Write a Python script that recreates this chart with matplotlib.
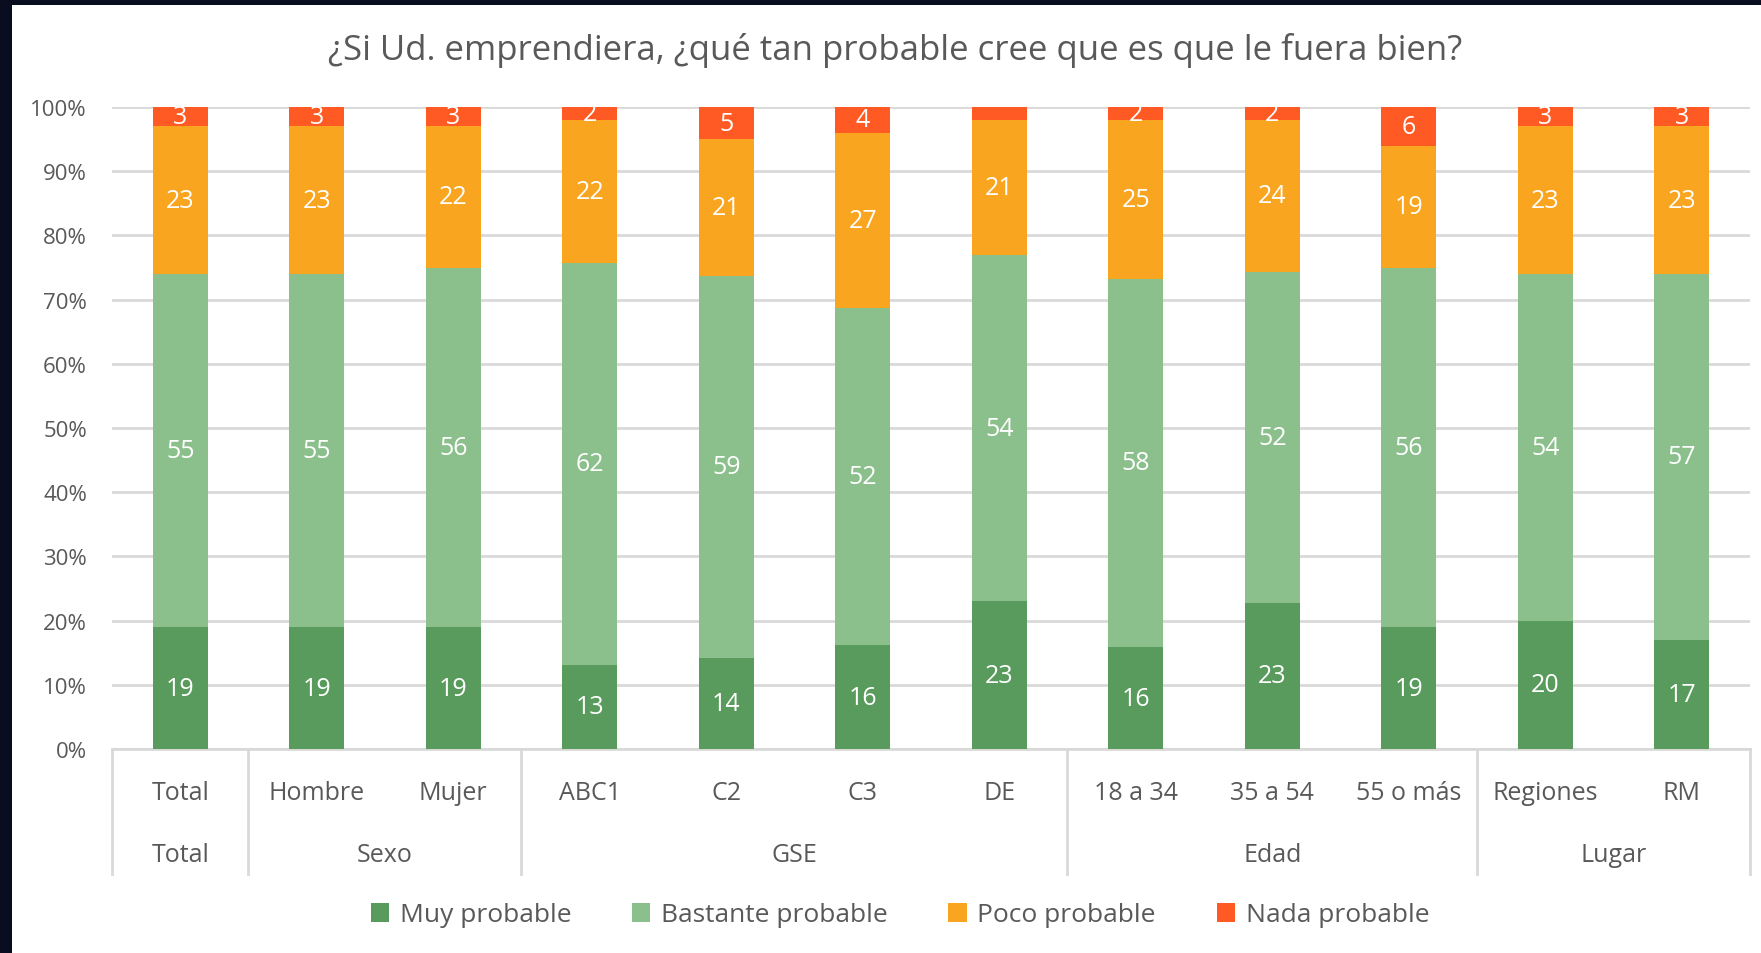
import numpy as np
import matplotlib
matplotlib.use("Agg")
import matplotlib.pyplot as plt
import matplotlib.transforms as mtransforms
from matplotlib.patches import Rectangle, Patch

plt.rcParams['font.family'] = ['Open Sans', 'DejaVu Sans']

TITLE = "¿Si Ud. emprendiera, ¿qué tan probable cree que es que le fuera bien?"

categories = ["Total", "Hombre", "Mujer", "ABC1", "C2", "C3", "DE",
              "18 a 34", "35 a 54", "55 o más", "Regiones", "RM"]
# groups: (name, first index, last index)
groups = [("Total", 0, 0), ("Sexo", 1, 2), ("GSE", 3, 6),
          ("Edad", 7, 9), ("Lugar", 10, 11)]

series_names = ["Muy probable", "Bastante probable", "Poco probable", "Nada probable"]
muy      = [19, 19, 19, 13, 14, 16, 23, 16, 23, 19, 20, 17]
bastante = [55, 55, 56, 62, 59, 52, 54, 58, 52, 56, 54, 57]
poco     = [23, 23, 22, 22, 21, 27, 21, 25, 24, 19, 23, 23]
nada     = [3, 3, 3, 2, 5, 4, 2, 2, 2, 6, 3, 3]
nada_lbl = ["3", "3", "3", "2", "5", "4", "", "2", "2", "6", "3", "3"]

colors = ["#589B5C", "#8BBF8C", "#F9A51F", "#FF5A24"]
TXT = "#595959"
GRID = "#D9D9D9"

W, H = 1761, 954
fig = plt.figure(figsize=(W / 100, H / 100), dpi=100)
fig.patch.set_facecolor("#080E20")
fig.patches.append(Rectangle((12 / W, 0), 1, (H - 6) / H, transform=fig.transFigure,
                             facecolor="white", edgecolor="none", zorder=-10))

ax = fig.add_axes([112 / W, 1 - 750 / H, (1750 - 112) / W, (750 - 108) / H])
ax.set_facecolor("none")

data = np.array([muy, bastante, poco, nada], dtype=float)
pct = data / data.sum(axis=0) * 100
x = np.arange(len(categories))
bottom = np.zeros(len(categories))
for k in range(4):
    ax.bar(x, pct[k], 0.4, bottom=bottom, color=colors[k], zorder=3)
    for i in range(len(categories)):
        lbl = nada_lbl[i] if k == 3 else str(int(data[k][i]))
        if lbl:
            ax.text(x[i], bottom[i] + pct[k][i] / 2, lbl, ha="center", va="center",
                    color="white", fontsize=18, zorder=4)
    bottom += pct[k]

ax.set_xlim(-0.5, len(categories) - 0.5)
ax.set_ylim(0, 100)
ax.set_yticks(np.arange(0, 101, 10))
ax.set_yticklabels([f"{v}%" for v in range(0, 101, 10)], fontsize=16, color=TXT)
ax.tick_params(axis="y", length=0, pad=18)
ax.set_xticks([])
ax.grid(axis="y", color=GRID, linewidth=2, zorder=0)
for s in ["top", "right", "left"]:
    ax.spines[s].set_visible(False)
ax.spines["bottom"].set_color(GRID)
ax.spines["bottom"].set_linewidth(2)

trans = mtransforms.blended_transform_factory(ax.transData, ax.transAxes)
for i, c in enumerate(categories):
    ax.text(x[i], -0.067, c, transform=trans, ha="center", va="center",
            fontsize=18, color=TXT, clip_on=False)
seps = [-0.5] + [g[2] + 0.5 for g in groups]
for s in seps:
    ax.plot([s, s], [0, -0.195], transform=trans, color=GRID, linewidth=2, clip_on=False)
for name, a, b in groups:
    ax.text((a + b) / 2, -0.1636, name, transform=trans, ha="center", va="center",
            fontsize=18, color=TXT, clip_on=False)

fig.text(895 / W, 1 - 50 / H, TITLE, ha="center", va="center", fontsize=25, color=TXT)

handles = [Patch(facecolor=colors[k], edgecolor="none") for k in range(4)]
fig.legend(handles, series_names, loc="center", bbox_to_anchor=(900 / W, 1 - 916 / H),
           ncol=4, frameon=False, fontsize=19, labelcolor=TXT, handlelength=0.7,
           handleheight=0.7, handletextpad=0.4, columnspacing=2.3)

fig.savefig("out.png", dpi=100, facecolor=fig.get_facecolor())
